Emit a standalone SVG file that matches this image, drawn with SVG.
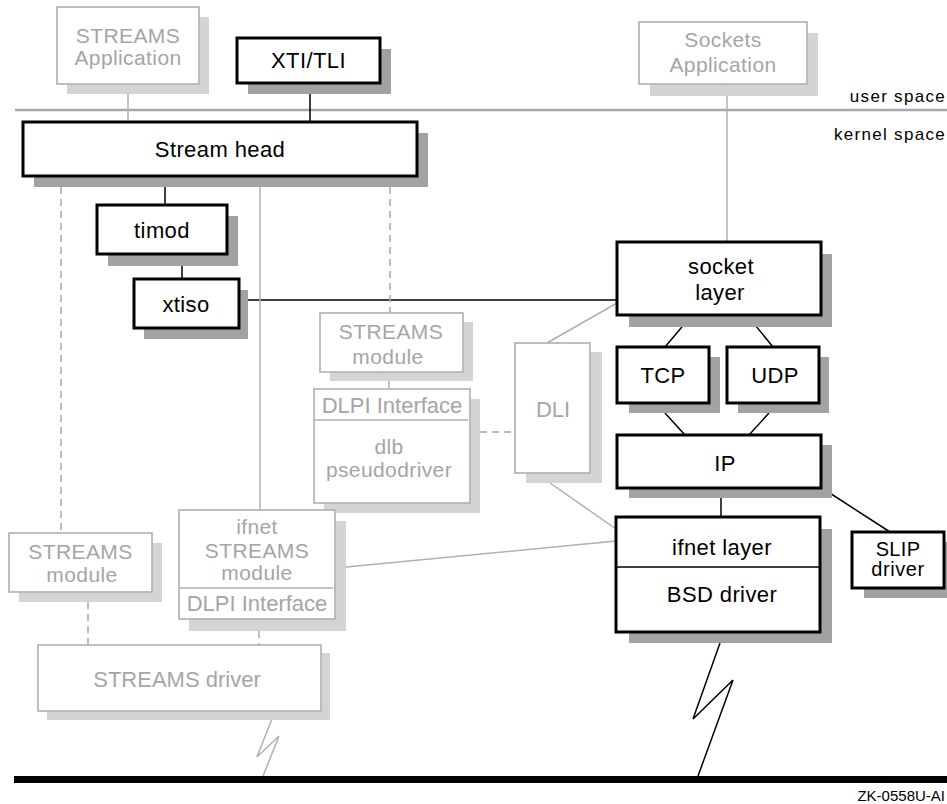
<svg xmlns="http://www.w3.org/2000/svg" width="947" height="804" viewBox="0 0 947 804">
<style>
  text { font-family: "Liberation Sans", Arial, sans-serif; font-size: 22px; text-anchor: middle; }
  .bk { fill: #000; letter-spacing: 0.4px; }
  .gt { fill: #a5a5a5; }
  .ml { font-size: 21px; letter-spacing: 0.4px; }
  .bbox { fill: #fff; stroke: #000; stroke-width: 3; }
  .gbox { fill: #fff; stroke: #b0b0b0; stroke-width: 1.6; }
  .dsh { fill: #a2a2a2; }
  .lsh { fill: #d4d4d5; }
  .bl { stroke: #000; stroke-width: 1.5; fill: none; }
  .gl { stroke: #b0b0b0; stroke-width: 1.5; fill: none; }
  .gd { stroke: #a8a8a8; stroke-width: 1.5; fill: none; stroke-dasharray: 7 5; }
  .small { font-size: 17px; letter-spacing: 1.3px; fill: #000; text-anchor: end; }
</style>

<!-- connectors -->
<g id="connectors">
  <line x1="15" y1="110" x2="947" y2="110" stroke="#a8a8a8" stroke-width="2.5"/>
  <line class="gl" x1="128" y1="84" x2="128" y2="122"/>
  <line class="bl" x1="310" y1="83" x2="310" y2="122"/>
  <line class="gl" x1="727" y1="84" x2="727" y2="242"/>
  <line class="bl" x1="165" y1="187" x2="165" y2="205"/>
  <line class="bl" x1="182" y1="266" x2="182" y2="279"/>
  <line class="bl" x1="248" y1="300" x2="617" y2="300"/>
  <line class="gd" x1="61" y1="187" x2="61" y2="533"/>
  <line class="gl" x1="260" y1="187" x2="260" y2="510"/>
  <line class="gd" x1="390" y1="187" x2="390" y2="313"/>
  <line class="gl" x1="389" y1="381" x2="389" y2="389"/>
  <line class="gd" x1="480" y1="432" x2="515" y2="432"/>
  <line class="gl" x1="617" y1="303" x2="547" y2="343"/>
  <line class="gl" x1="550" y1="483" x2="616" y2="529"/>
  <line class="gl" x1="336" y1="568" x2="616" y2="541"/>
  <line class="bl" x1="692" y1="315" x2="665" y2="347"/>
  <line class="bl" x1="747" y1="315" x2="773" y2="347"/>
  <line class="bl" x1="665" y1="413" x2="685" y2="435"/>
  <line class="bl" x1="769" y1="413" x2="749" y2="435"/>
  <line class="bl" x1="721" y1="498" x2="721" y2="517"/>
  <line class="bl" x1="822" y1="488" x2="890" y2="532"/>
  <line class="gd" x1="88" y1="602" x2="88" y2="645"/>
  <line class="gd" x1="259" y1="631" x2="259" y2="645"/>
  <polyline class="gl" points="275,711 257,757 279,736 263,776"/>
  <polyline class="bl" stroke-width="2" points="720,643 693,719 733,680 698,776"/>
  <line x1="14" y1="779.5" x2="947" y2="779.5" stroke="#000" stroke-width="7"/>
</g>

<!-- user/kernel labels -->
<text class="small" x="946" y="102">user space</text>
<text class="small" x="946" y="140">kernel space</text>

<g id="streams-app">
  <rect class="lsh" x="67" y="17" width="142" height="77"/>
  <rect class="gbox" x="57" y="7" width="142" height="77"/>
  <text class="gt ml" x="128" y="43">STREAMS</text>
  <text class="gt ml" x="128" y="65">Application</text>
</g>

<g id="xti-tli">
  <rect class="dsh" x="248" y="49" width="143" height="45"/>
  <rect class="bbox" x="237" y="38" width="143" height="45"/>
  <text class="bk" x="308.5" y="68">XTI/TLI</text>
</g>

<g id="sockets-app">
  <rect class="lsh" x="650" y="33" width="168" height="63"/>
  <rect class="gbox" x="639" y="22" width="168" height="62"/>
  <text class="gt ml" x="723" y="47">Sockets</text>
  <text class="gt ml" x="723" y="72">Application</text>
</g>

<g id="stream-head">
  <rect class="dsh" x="34" y="133" width="394" height="54"/>
  <rect class="bbox" x="23" y="122" width="394" height="54"/>
  <text class="bk" x="220" y="157">Stream head</text>
</g>

<g id="timod">
  <rect class="dsh" x="108" y="216" width="130" height="50"/>
  <rect class="bbox" x="97" y="205" width="130" height="49"/>
  <text class="bk" x="162" y="238">timod</text>
</g>

<g id="xtiso">
  <rect class="dsh" x="144" y="290" width="104" height="49"/>
  <rect class="bbox" x="134" y="279" width="105" height="49"/>
  <text class="bk" x="186" y="312">xtiso</text>
</g>

<g id="streams-module-mid">
  <rect class="lsh" x="330" y="322" width="143" height="59"/>
  <rect class="gbox" x="320" y="313" width="143" height="59"/>
  <text class="gt ml" x="391" y="339">STREAMS</text>
  <text class="gt ml" x="388" y="364">module</text>
</g>

<g id="dlb">
  <rect class="lsh" x="324" y="399" width="156" height="114"/>
  <rect class="gbox" x="314" y="389" width="156" height="114"/>
  <line class="gl" x1="313" y1="420" x2="468" y2="420"/>
  <text class="gt" x="392" y="413">DLPI Interface</text>
  <text class="gt ml" x="389" y="454">dlb</text>
  <text class="gt ml" x="389" y="477">pseudodriver</text>
</g>

<g id="dli">
  <rect class="lsh" x="526" y="352" width="76" height="131"/>
  <rect class="gbox" x="515" y="343" width="75" height="130"/>
  <text class="gt" x="553" y="417">DLI</text>
</g>

<g id="socket-layer">
  <rect class="dsh" x="629" y="254" width="203" height="73"/>
  <rect class="bbox" x="617" y="242" width="204" height="73"/>
  <text class="bk" x="721" y="274">socket</text>
  <text class="bk" x="720" y="300">layer</text>
</g>

<g id="tcp">
  <rect class="dsh" x="629" y="357" width="91" height="56"/>
  <rect class="bbox" x="617" y="347" width="92" height="56"/>
  <text class="bk" x="663" y="383">TCP</text>
</g>

<g id="udp">
  <rect class="dsh" x="738" y="357" width="91" height="56"/>
  <rect class="bbox" x="727" y="347" width="92" height="56"/>
  <text class="bk" x="775" y="383">UDP</text>
</g>

<g id="ip">
  <rect class="dsh" x="629" y="445" width="203" height="53"/>
  <rect class="bbox" x="617" y="435" width="204" height="53"/>
  <text class="bk" x="725" y="471">IP</text>
</g>

<g id="ifnet-layer">
  <rect class="dsh" x="629" y="529" width="203" height="114"/>
  <rect class="bbox" x="616" y="517" width="204" height="115"/>
  <line class="bl" x1="616" y1="567" x2="820" y2="567"/>
  <text class="bk" x="722" y="555">ifnet layer</text>
  <text class="bk" x="722" y="602">BSD driver</text>
</g>

<g id="slip">
  <rect class="dsh" x="864" y="542" width="83" height="56"/>
  <rect class="bbox" x="852" y="532" width="92" height="56"/>
  <text class="bk" x="898" y="556" style="letter-spacing:0.3px;font-size:20px">SLIP</text>
  <text class="bk" x="898" y="576" style="letter-spacing:0.6px;font-size:20px">driver</text>
</g>

<g id="streams-module-left">
  <rect class="lsh" x="19" y="543" width="143" height="59"/>
  <rect class="gbox" x="9" y="533" width="143" height="59"/>
  <text class="gt ml" x="80.5" y="559">STREAMS</text>
  <text class="gt ml" x="82" y="582">module</text>
</g>

<g id="ifnet-streams-module">
  <rect class="lsh" x="189" y="521" width="157" height="110"/>
  <rect class="gbox" x="179" y="510" width="156" height="109"/>
  <line class="gl" x1="179" y1="588" x2="333" y2="588"/>
  <text class="gt ml" x="257" y="534">ifnet</text>
  <text class="gt ml" x="257" y="558">STREAMS</text>
  <text class="gt ml" x="257" y="580">module</text>
  <text class="gt" x="257" y="611">DLPI Interface</text>
</g>

<g id="streams-driver">
  <rect class="lsh" x="47" y="653" width="283" height="67"/>
  <rect class="gbox" x="38" y="645" width="283" height="66"/>
  <text class="gt" x="177" y="687">STREAMS driver</text>
</g>

<text x="945" y="801" style="font-size:15px;text-anchor:end;fill:#000">ZK-0558U-AI</text>
</svg>
